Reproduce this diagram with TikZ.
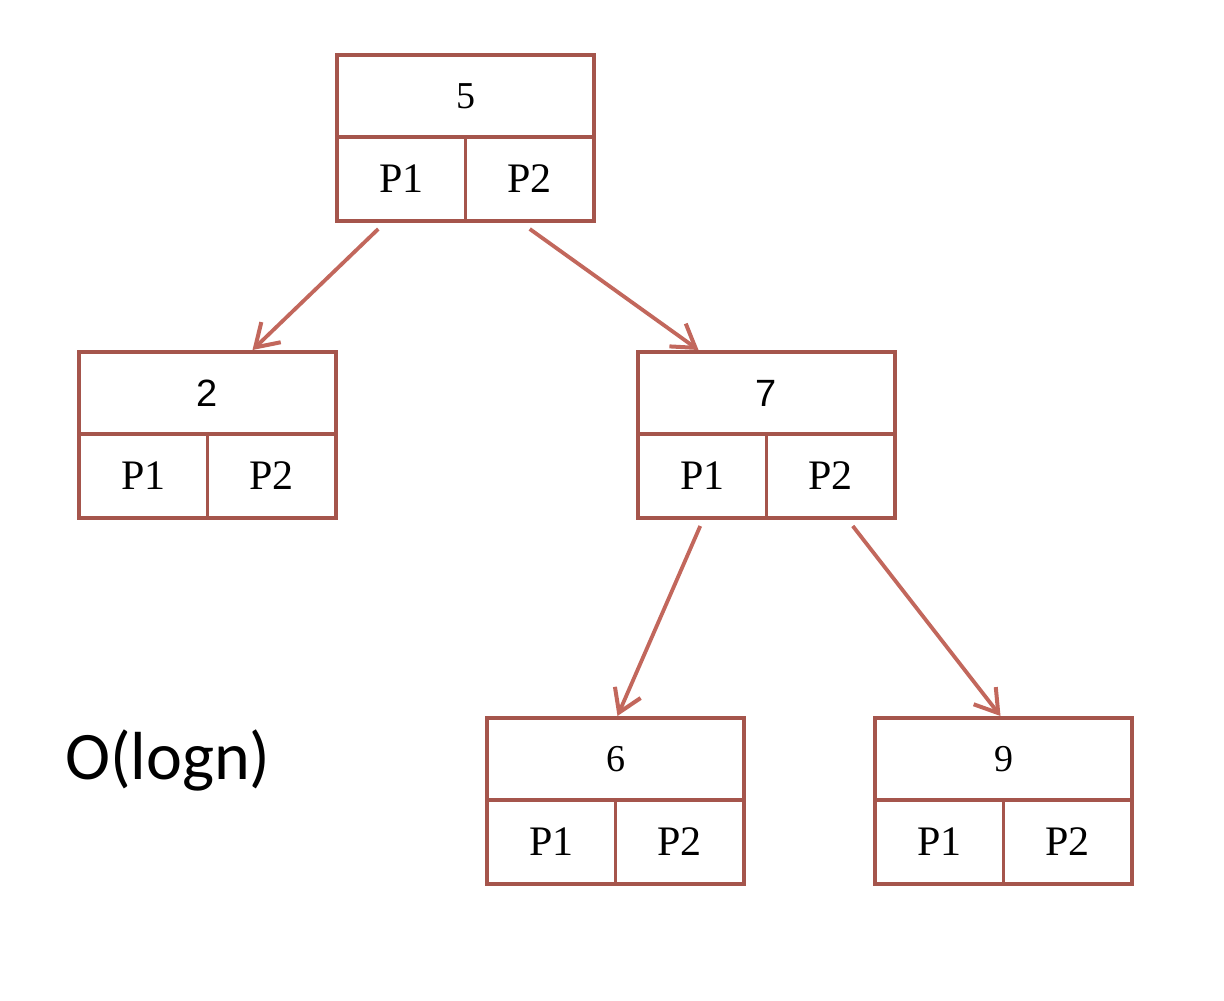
\documentclass[tikz,border=0pt]{standalone}
\usepackage{fontspec}
\setmainfont{Liberation Serif}
\newfontfamily\keysans{Liberation Sans}
\newfontfamily\notefont{Carlito}
\usetikzlibrary{arrows.meta,calc}
\definecolor{boxline}{HTML}{A5554C}
\definecolor{arrowline}{HTML}{C2675C}
\tikzset{
  x=0.5pt, y=-0.5pt,
  keycell/.style={draw=boxline, line width=1.8pt, outer sep=0pt, minimum width=128.5pt, minimum height=41pt,
                  inner sep=0pt, font=\fontsize{19}{19}\selectfont},
  ptrcell/.style={draw=boxline, line width=1.8pt, outer sep=0pt, minimum width=64.25pt, minimum height=42pt,
                  inner sep=0pt, font=\fontsize{21}{21}\selectfont},
  link/.style={draw=arrowline, line width=1.9pt,
               -{Straight Barb[length=11pt, width=14pt, line width=2pt]}},
}
% one tree node: key row on top, two pointer cells below
\newcommand{\treenode}[3]{%
  \node[keycell, anchor=north west] (#1) at (#2) {#3};
  \node[ptrcell, anchor=north west] (#1-p1) at (#1.south west) {P1};
  \node[ptrcell, anchor=north east] (#1-p2) at (#1.south east) {P2};
}
\begin{document}
\begin{tikzpicture}
\useasboundingbox[fill=white] (0,0) rectangle (1224,1000);

\treenode{n5}{337,55}{5}
\treenode{n2}{79,352}{{\keysans 2}}
\treenode{n7}{638,352}{{\keysans 7}}
\treenode{n6}{487,718}{6}
\treenode{n9}{875,718}{9}

\draw[link] ($(n5-p1.south)+(-23,8)$) -- ($(n2.north)+(45,-2)$);
\draw[link] ($(n5-p2.south)+(0,8)$) -- ($(n7.north)+(-68,-2)$);
\draw[link] ($(n7-p1.south)+(-2,8)$) -- ($(n6.north)+(2,-2)$);
\draw[link] ($(n7-p2.south)+(22,8)$) -- ($(n9.north)+(-3,-2)$);

\node[font=\notefont\fontsize{34}{34}\selectfont, anchor=west] (cost) at (58,760) {O(logn)};
\end{tikzpicture}
\end{document}
